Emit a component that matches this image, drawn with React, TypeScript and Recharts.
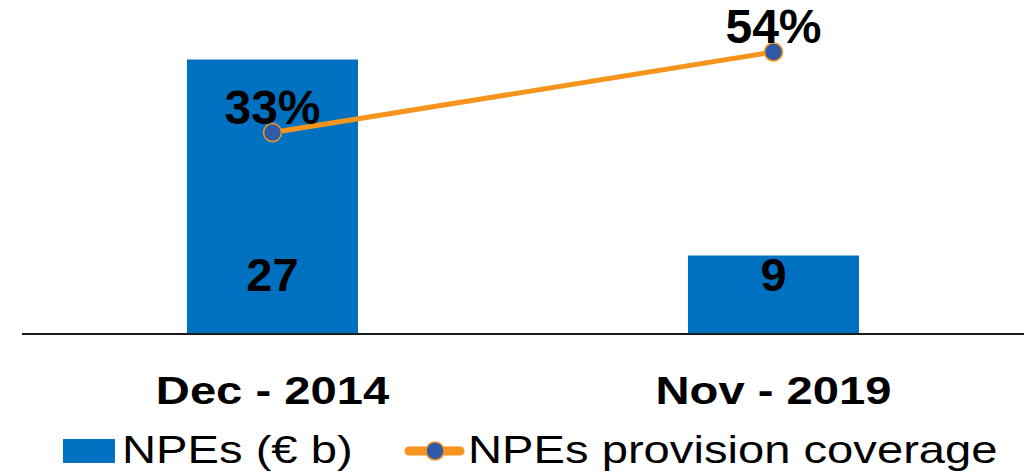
import {
  ComposedChart, Bar, Line, XAxis, YAxis, LabelList, Legend,
} from "recharts";

const categories = ["Dec - 2014", "Nov - 2019"];
const npes = [27, 9];
const coverage = [33, 54];

const BLUE = "#0070C0";
const ORANGE = "#F7941D";
const DOT = "#2E5BA8";
const FONT = '"Liberation Sans", Arial, sans-serif';

const data = categories.map((cat, i) => ({
  cat,
  npes: npes[i],
  coverage: coverage[i],
}));

function CatTick({ x, y, payload }: any) {
  return (
    <text
      transform={`translate(${x},${y + 70}) scale(1.21,1)`}
      textAnchor="middle"
      fontSize={39}
      fontWeight="bold"
      fontFamily={FONT}
      fill="#000"
    >
      {payload.value}
    </text>
  );
}

function LegendContent() {
  return (
    <svg width={1035} height={50} style={{ display: "block" }}>
      <rect x={63} y={13} width={52} height={24} fill={BLUE} />
      <text
        transform="translate(122,37) scale(1.21,1)"
        fontSize={39}
        fontFamily={FONT}
        fill="#000"
      >
        NPEs (€ b)
      </text>
      <line x1={409} y1={25} x2={460} y2={25} stroke={ORANGE} strokeWidth={9} strokeLinecap="round" />
      <circle cx={435} cy={25} r={9} fill={DOT} stroke={ORANGE} strokeWidth={1.5} />
      <text
        transform="translate(468,37) scale(1.21,1)"
        fontSize={39}
        fontFamily={FONT}
        fill="#000"
      >
        NPEs provision coverage
      </text>
    </svg>
  );
}

export default function App() {
  return (
    <div style={{ position: "absolute", left: 0, top: 0, width: 1035, height: 476, background: "#fff" }}>
      <ComposedChart
        width={1035}
        height={476}
        data={data}
        margin={{ top: 29, right: 11, left: 22, bottom: 0 }}
      >
        <XAxis
          dataKey="cat"
          height={92}
          tickLine={false}
          tickSize={0}
          tickMargin={0}
          axisLine={{ stroke: "#1a1a1a", strokeWidth: 2 }}
          tick={<CatTick />}
          interval={0}
        />
        <YAxis yAxisId="left" hide type="number" domain={[1.8, 29.8]} allowDataOverflow />
        <YAxis yAxisId="right" hide type="number" domain={[-19.5, 60]} allowDataOverflow orientation="right" />
        <Legend
          content={<LegendContent />}
          wrapperStyle={{ top: 426, left: 0, width: 1035, height: 50 }}
        />
        <Bar yAxisId="left" dataKey="npes" fill={BLUE} barSize={171} isAnimationActive={false}>
          <LabelList
            dataKey="npes"
            position="insideBottom"
            offset={43}
            fontSize={47}
            fontWeight="bold"
            fontFamily={FONT}
            fill="#000"
          />
        </Bar>
        <Line
          yAxisId="right"
          dataKey="coverage"
          stroke={ORANGE}
          strokeWidth={5}
          dot={{ r: 9, fill: DOT, stroke: ORANGE, strokeWidth: 1.5 }}
          isAnimationActive={false}
        >
          <LabelList
            dataKey="coverage"
            position="top"
            offset={9}
            formatter={(v: any) => `${v}%`}
            fontSize={48}
            fontWeight="bold"
            fontFamily={FONT}
            fill="#000"
          />
        </Line>
      </ComposedChart>
    </div>
  );
}
